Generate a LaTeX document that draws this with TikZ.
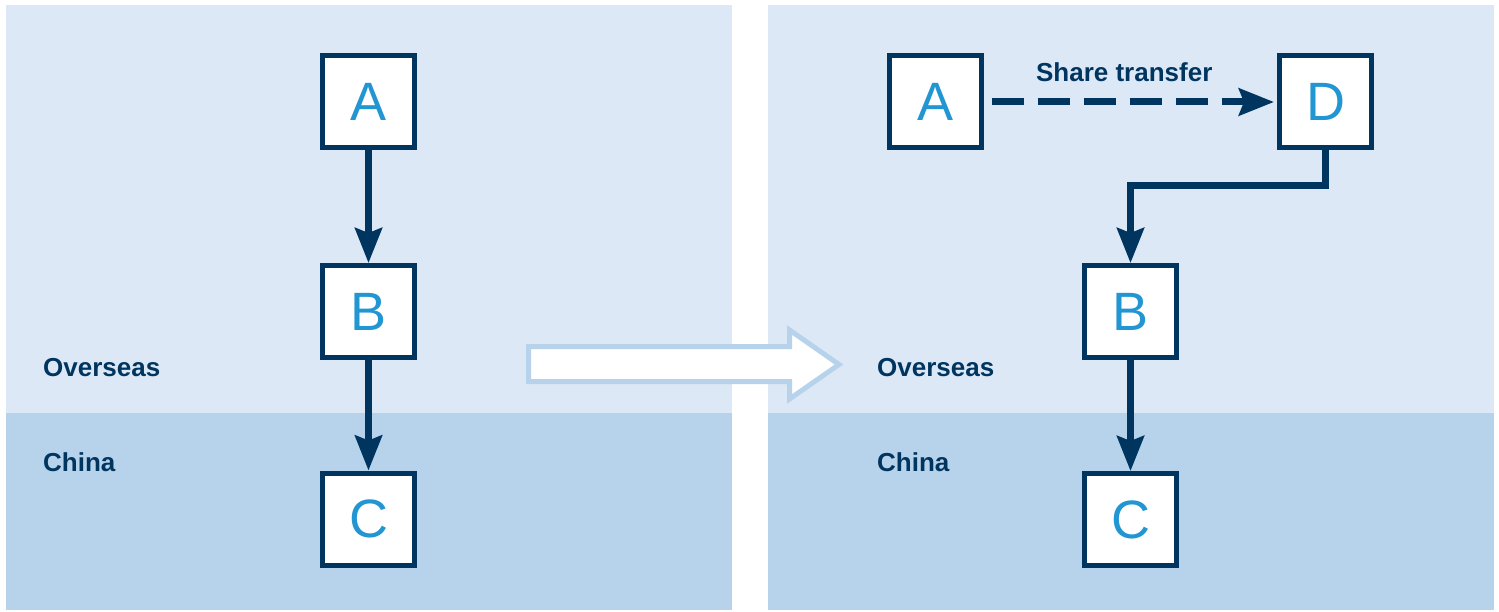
\documentclass[tikz,border=0pt]{standalone}
\usepackage{fontspec}
\setmainfont{Liberation Sans}
\usetikzlibrary{arrows.meta}
\definecolor{lightbg}{HTML}{DCE8F5}
\definecolor{darkbg}{HTML}{B7D3EC}
\definecolor{navy}{HTML}{003560}
\definecolor{letterblue}{HTML}{2196D3}
\tikzset{
  entity/.style={draw=navy, line width=5pt, fill=white, minimum size=92pt, inner sep=0pt,
    text=letterblue, font=\fontsize{54}{60}\selectfont},
  link/.style={draw=navy, line width=6.5pt, -{Stealth[length=35pt,width=27pt,inset=5pt]}},
  region/.style={text=navy, font=\bfseries\fontsize{26}{30}\selectfont, anchor=west, inner sep=0pt},
}
\begin{document}
\begin{tikzpicture}[x=1pt,y=-1pt]
\useasboundingbox (0,0) rectangle (1499,612);
% panels
\fill[lightbg] (6,5) rectangle (732,413);
\fill[darkbg] (6,413) rectangle (732,610);
\fill[lightbg] (768,5) rectangle (1494,413);
\fill[darkbg] (768,413) rectangle (1494,610);
% region labels
\node[region] (ov1) at (43,368) {Overseas};
\node[region] (ch1) at (43,462) {China};
\node[region] (ov2) at (877,368) {Overseas};
\node[region] (ch2) at (877,462) {China};
% big hollow arrow
\draw[draw=darkbg, fill=white, line width=5pt, line join=miter]
  (528.5,346.5) -- (789.5,346.5) -- (789.5,330) -- (839,364.5) -- (789.5,399) -- (789.5,381.5) -- (528.5,381.5) -- cycle;
% left structure
\node[entity] (A1) at (368.5,102) {A};
\node[entity] (B1) at (368.5,311.5) {B};
\node[entity] (C1) at (368.5,519) {C};
\draw[link] (A1) -- (B1);
\draw[link] (B1) -- (C1);
% right structure
\node[entity] (A2) at (935,102) {A};
\node[entity] (D2) at (1325.5,102) {D};
\node[entity] (B2) at (1130.5,311.5) {B};
\node[entity] (C2) at (1130.5,519.5) {C};
\draw[link, line width=7pt, dash pattern=on 32pt off 14pt, shorten <=8pt, shorten >=3pt] (A2) -- node[above=13pt, xshift=-6pt, text=navy, font=\bfseries\fontsize{26}{30}\selectfont] (st) {Share transfer} (D2);
\draw[link, line join=miter] (D2.south) -- ++(0,35) -| (B2.north);
\draw[link] (B2) -- (C2);
\end{tikzpicture}
\end{document}
